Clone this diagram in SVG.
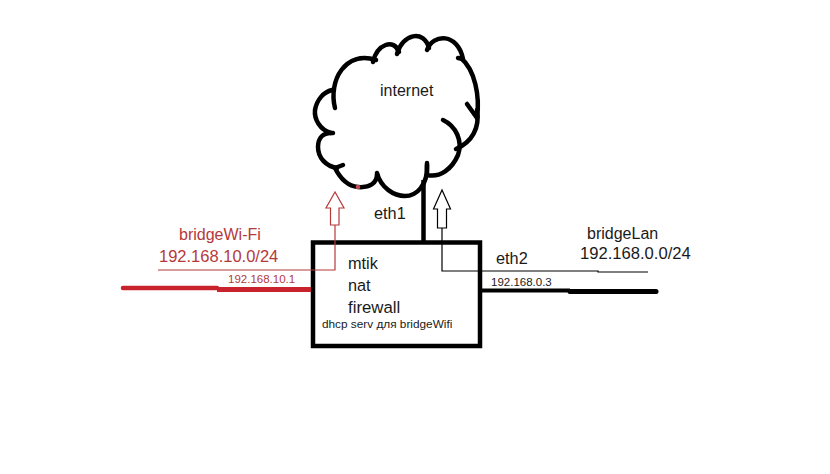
<svg xmlns="http://www.w3.org/2000/svg" width="830" height="474" viewBox="0 0 830 474">
<style>
.t{font-family:"Liberation Sans",Arial,sans-serif;fill:#1a1a1a}
.r{fill:#b5393b}
.cl{fill:none;stroke:#000;stroke-width:4.5;stroke-linecap:round;stroke-linejoin:round}
.thin{fill:none;stroke:#000;stroke-width:1.2}
.thinr{fill:none;stroke:#b5393b;stroke-width:1.2}
</style>
<rect width="830" height="474" fill="#fff"/>
<g id="cloud">
<path class="cl" d="M335,108 C328,80 346,50 376,60"/>
<path class="cl" d="M373,62 C377,44 394,38 399,52"/>
<path class="cl" d="M397,54 C402,34 424,29 429,48"/>
<path class="cl" d="M427,50 C433,33 458,33 463,59 L458,58"/>
<path class="cl" d="M461,58 C475,70 480,96 477,118 L467,104"/>
<path class="cl" d="M477,110 C480,128 472,142 456,149"/>
<path class="cl" d="M443,120 C456,126 463,141 458,155 C452,169 440,178 427,175 L427,163"/>
<path class="cl" d="M427,165 C428,186 416,196 405,196 C394,196 381,188 377,173"/>
<path class="cl" d="M377,174 C377,183 370,188 358,187 C348,186 340,178 335,168 L343,165"/>
<path class="cl" d="M337,168 C326,166 318,158 318,147 C318,138 323,132 333,133"/>
<path class="cl" d="M331,133 C320,130 314,119 315,110 C317,99 324,92 332,90"/>
<circle cx="358" cy="187" r="2.3" fill="#c24a55"/>
<text class="t" x="380" y="96" font-size="16">internet</text>
</g>
<g id="router">
<rect x="313" y="242.5" width="167" height="103.5" fill="#fff" stroke="#000" stroke-width="4.5"/>
<text class="t" x="348" y="269" font-size="16.3">mtik</text>
<text class="t" x="348" y="291" font-size="16.3">nat</text>
<text class="t" x="348" y="313" font-size="16.8">firewall</text>
<text class="t" x="322" y="328" font-size="11.8">dhcp serv для bridgeWifi</text>
</g>
<g id="bridgeWifi">
<text class="t r" x="179" y="240" font-size="16">bridgeWi-Fi</text>
<text class="t r" x="159" y="262" font-size="16.5">192.168.10.0/24</text>
<text class="t r" x="228" y="283" font-size="11.5">192.168.10.1</text>
</g>
<g id="bridgeLan">
<text class="t" x="587" y="239" font-size="16">bridgeLan</text>
<text class="t" x="580" y="259" font-size="16.6">192.168.0.0/24</text>
<text class="t" x="491" y="286" font-size="11.5">192.168.0.3</text>
</g>
<g id="connectors">
<line x1="423.5" y1="180" x2="423.5" y2="242" stroke="#000" stroke-width="4.5"/>
<text class="t" x="374" y="219" font-size="16.3">eth1</text>
<text class="t" x="496" y="264" font-size="16.3">eth2</text>
<path d="M123,288 H217" stroke="#c8232c" stroke-width="4.5" stroke-linecap="round"/>
<path d="M217,289.5 H311" stroke="#c8232c" stroke-width="5"/>
<path d="M482,290.5 H570" stroke="#000" stroke-width="4"/>
<path d="M570,291.5 H656" stroke="#000" stroke-width="5" stroke-linecap="round"/>
<polygon points="335,192 326,208 330.5,208 330.5,225 339,225 339,208 344,208" fill="#fff" stroke="#b5393b" stroke-width="1.2"/>
<path class="thinr" d="M335,225 V270 H158"/>
<polygon points="442,190 433.5,209 437.5,209 437.5,228 446.5,228 446.5,209 450.5,209" fill="#fff" stroke="#000" stroke-width="1.2"/>
<path class="thin" d="M442,228 V271 H598 V272 H648"/>
</g>
</svg>
